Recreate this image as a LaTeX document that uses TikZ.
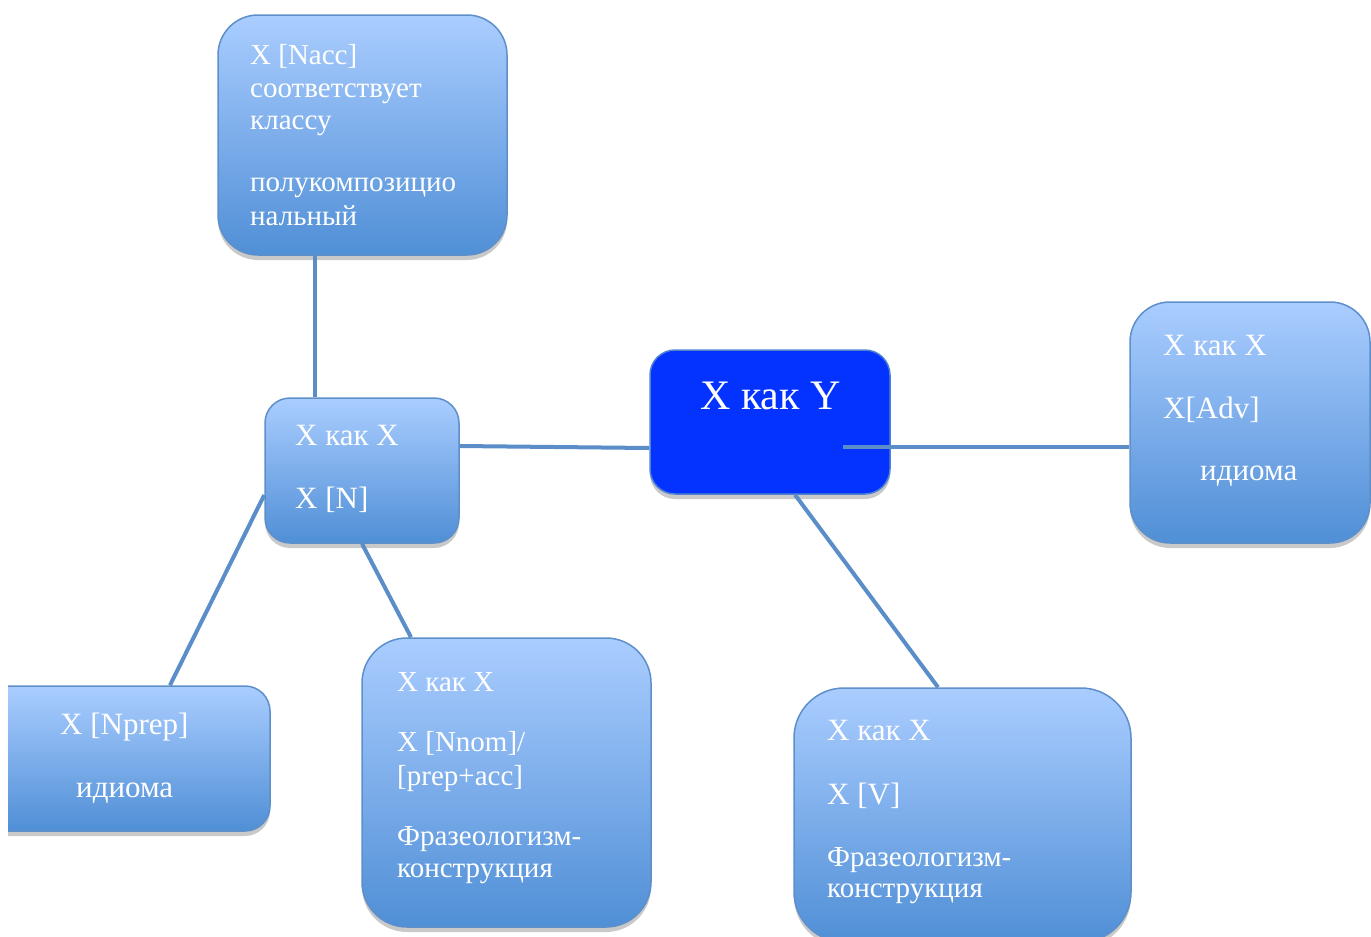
\documentclass[tikz,border=0pt]{standalone}
\usepackage{fontspec}
\setmainfont{Liberation Serif}
\usetikzlibrary{shadows}
\definecolor{boxtop}{RGB}{170,205,255}
\definecolor{boxbot}{RGB}{80,143,214}
\definecolor{boxline}{RGB}{93,143,203}
\definecolor{conn}{RGB}{91,141,200}
\definecolor{mainfill}{RGB}{4,51,255}
\definecolor{mainline}{RGB}{80,130,210}
\tikzset{
  bluebox/.style={draw=boxline, line width=1.5pt, top color=boxtop, bottom color=boxbot,
    drop shadow={shadow xshift=0pt, shadow yshift=-5pt, opacity=0.3, fill=black!70}},
  mainbox/.style={draw=mainline, line width=1.5pt, fill=mainfill,
    drop shadow={shadow xshift=0pt, shadow yshift=-5pt, opacity=0.3, fill=black!70}},
  connector/.style={draw=conn, line width=4pt},
  txt/.style={anchor=base west, text=white, inner sep=0pt},
  small/.style={font=\fontsize{29}{33}\selectfont},
  big/.style={font=\fontsize{31}{35}\selectfont},
}
\begin{document}
\begin{tikzpicture}[x=1pt, y=-1pt]
\useasboundingbox (0,0) rectangle (1371,937);
% boxes
\node[bluebox, rounded corners=40pt, minimum width=289pt, minimum height=240pt] (top) at (362.5,135) {};
\node[bluebox, rounded corners=25pt, minimum width=194pt, minimum height=145pt] (nc) at (362,470.5) {};
\node[mainbox, rounded corners=25pt, minimum width=240pt, minimum height=144pt] (main) at (770,422) {};
\node[bluebox, rounded corners=40pt, minimum width=240pt, minimum height=241pt] (right) at (1250,422.5) {};
\begin{scope}
\clip (8,600) rectangle (400,900);
\node[bluebox, rounded corners=25pt, minimum width=310pt, minimum height=145pt] (nprep) at (115,758.5) {};
\end{scope}
\node[bluebox, rounded corners=45pt, minimum width=289pt, minimum height=289pt] (bm) at (506.5,782.5) {};
\node[bluebox, rounded corners=50pt, minimum width=337pt, minimum height=254pt] (br) at (962.5,815) {};
% connectors
\draw[connector] ([xshift=-47.5pt]top.south) -- ([xshift=-47pt]nc.north);
\draw[connector] ([yshift=24.5pt]nc.east) -- ([yshift=-26pt]main.west);
\coordinate (mainR) at (843,447);
\draw[connector] (mainR) -- ([yshift=-24.5pt]right.west);
\draw[connector] ([xshift=25pt]main.south) -- ([xshift=-24.5pt]br.north);
\draw[connector] ([yshift=-24.5pt]nc.west) -- ([xshift=55pt]nprep.north);
\draw[connector] (nc.south) -- ([xshift=-95.5pt]bm.north);
% texts
\node[txt, small] (t1) at (250,64) {X [Nacc]};
\node[txt, small] (t2) at (250,97) {соответствует};
\node[txt, small] (t3) at (250,129) {классу};
\node[txt, small] (t4) at (250,191) {полукомпозицио};
\node[txt, small] (t5) at (250,225) {нальный};
\node[txt, big] (c1) at (295,445) {X как X};
\node[txt, big] (c2) at (295,508) {X [N]};
\node[txt, font=\fontsize{42}{46}\selectfont] (m1) at (700,409) {X как Y};
\node[txt, big] (r1) at (1163,355) {X как X};
\node[txt, big] (r2) at (1163,418) {X[Adv]};
\node[txt, big] (r3) at (1200,480) {идиома};
\node[txt, big] (p1) at (60,734) {X [Nprep]};
\node[txt, big] (p2) at (76,797) {идиома};
\node[txt, small] (b1) at (397,691) {X как X};
\node[txt, small] (b2) at (397,751) {X [Nnom]/};
\node[txt, small] (b3) at (397,785) {[prep+acc]};
\node[txt, small] (b4) at (397,845) {Фразеологизм-};
\node[txt, small] (b5) at (397,877) {конструкция};
\node[txt, big] (d1) at (827,740) {X как X};
\node[txt, big] (d2) at (827,804) {X [V]};
\node[txt, small] (d3) at (827,866) {Фразеологизм-};
\node[txt, small] (d4) at (827,897) {конструкция};
\end{tikzpicture}
\end{document}
